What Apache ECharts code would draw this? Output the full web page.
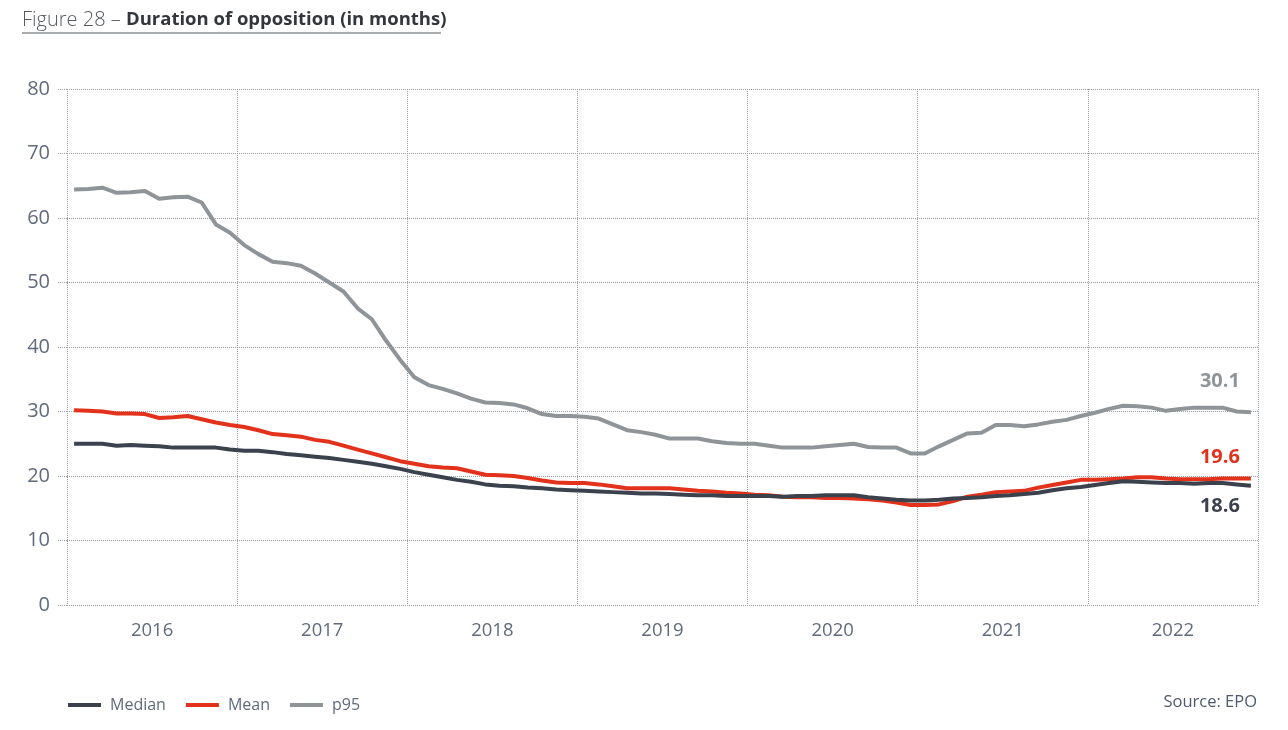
<!DOCTYPE html>
<html>
<head>
<meta charset="utf-8">
<script src="https://cdn.jsdelivr.net/npm/echarts@6/dist/echarts.min.js"></script>
<style>html,body{margin:0;padding:0;background:#fff}#c{width:1288px;height:730px}</style>
</head>
<body>
<div id="c"></div>
<script>
const years = ['2016','2017','2018','2019','2020','2021','2022'];
const median = [25.0,25.0,25.0,24.7,24.8,24.7,24.6,24.4,24.4,24.4,24.4,24.1,
  23.9,23.9,23.7,23.4,23.2,23.0,22.8,22.5,22.2,21.9,21.5,21.1,
  20.6,20.2,19.8,19.4,19.1,18.7,18.5,18.4,18.2,18.1,17.9,17.8,
  17.7,17.6,17.5,17.4,17.3,17.3,17.2,17.1,17.0,17.0,16.9,16.9,
  16.9,16.9,16.8,16.9,16.9,17.0,17.0,17.0,16.7,16.5,16.3,16.2,
  16.2,16.3,16.5,16.6,16.7,16.9,17.0,17.2,17.4,17.8,18.1,18.3,
  18.6,18.9,19.2,19.1,19.0,18.9,18.9,18.8,18.9,18.9,18.7,18.5];
const mean = [30.2,30.1,30.0,29.7,29.7,29.6,29.0,29.1,29.3,28.8,28.3,27.9,
  27.6,27.1,26.5,26.3,26.1,25.6,25.3,24.7,24.1,23.5,22.9,22.3,
  21.9,21.5,21.3,21.2,20.7,20.2,20.1,20.0,19.7,19.3,19.0,18.9,
  18.9,18.7,18.4,18.1,18.1,18.1,18.1,17.9,17.7,17.6,17.4,17.3,
  17.1,17.0,16.8,16.7,16.7,16.6,16.6,16.5,16.4,16.2,15.9,15.5,
  15.5,15.6,16.1,16.8,17.1,17.5,17.6,17.7,18.2,18.6,19.0,19.4,
  19.4,19.5,19.6,19.8,19.8,19.6,19.5,19.5,19.5,19.6,19.6,19.6];
const p95 = [64.4,64.5,64.7,63.9,64.0,64.2,63.0,63.2,63.3,62.4,59.0,57.7,
  55.8,54.4,53.2,53.0,52.6,51.4,50.0,48.6,46.0,44.3,41.0,38.0,
  35.3,34.1,33.5,32.8,32.0,31.4,31.3,31.1,30.5,29.6,29.3,29.3,
  29.2,28.9,28.0,27.1,26.8,26.4,25.8,25.8,25.8,25.4,25.1,25.0,
  25.0,24.7,24.4,24.4,24.4,24.6,24.8,25.0,24.5,24.4,24.4,23.5,
  23.5,24.6,25.6,26.6,26.7,27.9,27.9,27.7,28.0,28.4,28.7,29.3,
  29.8,30.4,30.9,30.8,30.6,30.1,30.4,30.6,30.6,30.6,30.0,29.9];
const endLabels = {Median:'18.6', Mean:'19.6', p95:'30.1'};
const yTicks = {min:0, max:80, interval:10};

const FONT = '"Open Sans", "Noto Sans", sans-serif';
const AX = '#5f6b7d';
const GRID = '#9a9ea4';
const COLORS = {Median:'#3b424e', Mean:'#e2321b', p95:'#8f9499'};

function pts(arr){ return arr.map((v,i)=>[i+0.5, v]); }
function mk(name, arr, off){
  const last = arr.length-1;
  return {
    name, type:'line', data: pts(arr), xAxisIndex:0, showSymbol:false, symbol:'none',
    lineStyle:{width:4, color:COLORS[name]}, itemStyle:{color:COLORS[name]},
    z: name==='Median'?4:(name==='Mean'?3:2),
    markPoint:{
      symbol:'circle', symbolSize:1, itemStyle:{color:'rgba(0,0,0,0)'},
      data:[{coord:[last+0.5, arr[last]], value:endLabels[name]}],
      label:{show:true, position:'inside', offset:off, formatter:endLabels[name],
        fontFamily:FONT, fontSize:20, fontWeight:'bold', color:COLORS[name]}
    }
  };
}

const chart = echarts.init(document.getElementById('c'));
chart.setOption({
  animation:false,
  textStyle:{fontFamily:FONT},
  title:{
    text:'{a|Figure 28 – }{b|Duration of opposition (in months)}',
    left:22, top:10, padding:0,
    textStyle:{rich:{
      a:{fontFamily:FONT, fontSize:20, fontWeight:300, color:'#555a60'},
      b:{fontFamily:FONT, fontSize:18.5, fontWeight:'bold', color:'#33373c'}
    }}
  },
  graphic:[
    {type:'line', shape:{x1:22, y1:33, x2:441, y2:33}, style:{stroke:'#555a60', lineWidth:1}},
    {type:'text', right:31, top:694, style:{text:'Source: EPO', fontFamily:FONT, fontSize:16.5, fill:'#4f5b6d'}}
  ],
  legend:{
    left:68, top:697, padding:0, icon:'rect', itemWidth:33, itemHeight:4, itemGap:20,
    textStyle:{fontFamily:FONT, fontSize:16, color:AX, padding:[0,0,0,4]},
    data:['Median','Mean','p95']
  },
  grid:{left:67, right:30, top:89, bottom:125},
  xAxis:[
    {type:'value', min:0, max:84, interval:12,
     axisLabel:{show:false}, axisLine:{show:false}, axisTick:{show:false},
     splitLine:{show:true, lineStyle:{type:'dotted', color:GRID, width:1}}},
    {type:'category', data:years, position:'bottom', boundaryGap:true,
     axisLine:{show:false}, axisTick:{show:false}, splitLine:{show:false},
     axisLabel:{fontFamily:FONT, fontSize:18.5, color:AX, margin:16}}
  ],
  yAxis:{
    type:'value', min:yTicks.min, max:yTicks.max, interval:yTicks.interval,
    axisLine:{show:false},
    axisTick:{show:true, length:9, lineStyle:{type:'dotted', color:GRID}},
    axisLabel:{fontFamily:FONT, fontSize:20, color:AX, margin:17, padding:[0,0,5,0]},
    splitLine:{show:true, lineStyle:{type:'dotted', color:GRID, width:1}}
  },
  series:[
    mk('Median', median, [-31, 21]),
    mk('Mean', mean, [-31, -21]),
    mk('p95', p95, [-31, -31])
  ]
});
</script>
</body>
</html>
